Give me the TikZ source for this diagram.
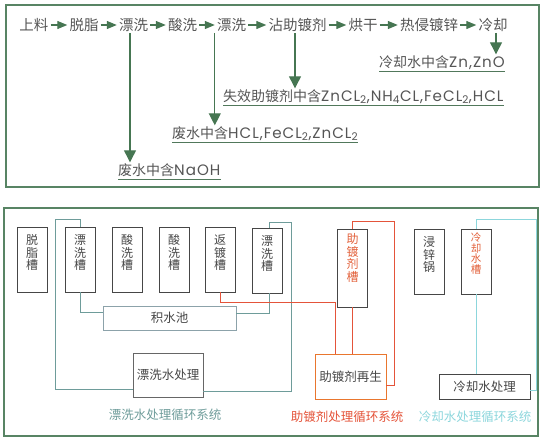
\documentclass[tikz,border=0pt]{standalone}
\usepackage{fontspec}
\setmainfont{Noto Sans CJK SC}
\newfontfamily\lat[Scale=1.08,LetterSpace=6.5]{Poppins}
\usetikzlibrary{arrows.meta}
\definecolor{frame}{RGB}{88,132,100}
\definecolor{arrg}{RGB}{70,118,82}
\definecolor{txt}{RGB}{85,85,85}
\definecolor{tealc}{RGB}{110,156,154}
\definecolor{redc}{RGB}{228,84,58}
\definecolor{cyanc}{RGB}{140,214,220}
\definecolor{poolc}{RGB}{140,162,170}
\definecolor{tankc}{RGB}{70,70,70}
\definecolor{orc}{RGB}{226,96,58}
\tikzset{
  outer/.style={draw=frame, line width=1.8pt},
  flow/.style={text=txt, font=\fontsize{14.5}{16}\selectfont, inner xsep=2pt, inner ysep=1pt},
  harr/.style={draw=arrg, line width=1.2pt, -{Triangle[length=10pt,width=8pt]}},
  varr/.style={draw=arrg, line width=1.2pt, -{Triangle[length=12pt,width=12pt]}},
  lab/.style={text=txt, font=\fontsize{14}{16}\selectfont, anchor=west, inner xsep=0pt, inner ysep=1.5pt, text height=11pt, text depth=3pt},
  uline/.style={draw=arrg!80!gray, line width=0.9pt},
  tank/.style={draw=tankc, line width=0.9pt, inner sep=0pt, minimum width=30pt},
  tanktxt/.style={text=tankc, font=\fontsize{12}{12.5}\selectfont, align=center, inner sep=0pt, anchor=north},
  boxn/.style={line width=0.9pt, inner sep=0pt, text=tankc, font=\fontsize{12.5}{14}\selectfont},
  tealline/.style={draw=tealc, line width=1pt},
  redline/.style={draw=redc, line width=1pt},
  cyanline/.style={draw=cyanc, line width=1pt},
  syslab/.style={font=\fontsize{12.5}{14}\selectfont, inner sep=0pt},
}
\begin{document}
\begin{tikzpicture}[x=1pt,y=-1pt]
\useasboundingbox (0,0) rectangle (548,445);
% panels
\draw[outer] (6,5) rectangle (539,187);
\draw[outer] (4,208) rectangle (538,436);

% ---------- top flow ----------
\node[flow] (n1) at (34,25) {上料};
\node[flow] (n2) at (84,25) {脱脂};
\node[flow] (n3) at (133.5,25) {漂洗};
\node[flow] (n4) at (182.5,25) {酸洗};
\node[flow] (n5) at (231.5,25) {漂洗};
\node[flow] (n6) at (297.5,25) {沾助镀剂};
\node[flow] (n7) at (363,25) {烘干};
\node[flow] (n8) at (429,25) {热侵镀锌};
\node[flow] (n9) at (493,25) {冷却};
\foreach \a/\b in {n1/n2,n2/n3,n3/n4,n4/n5,n5/n6,n6/n7,n7/n8,n8/n9}
  \draw[harr] (\a) -- (\b);

% labels
\node[lab] (l1) at (379,63) {冷却水中含{\lat Zn,ZnO}};
\node[lab] (l2) at (223,97) {失效助镀剂中含{\lat ZnCL\textsubscript{2},NH\textsubscript{4}CL,FeCL\textsubscript{2},HCL}};
\node[lab] (l3) at (172,134) {废水中含{\lat HCL,FeCL\textsubscript{2},ZnCL\textsubscript{2}}};
\node[lab] (l4) at (118,171) {废水中含{\lat NaOH}};
\foreach \l in {l1,l2,l3,l4}
  \draw[uline] (\l.south west) -- (\l.south east);

\draw[varr] ([xshift=3pt]n9.south) -- ([xshift=3pt]n9.south |- l1.north);
\draw[varr] ([xshift=-2.5pt]n6.south) -- ([xshift=-2.5pt]n6.south |- l2.north);
\draw[varr] (n5.south west) -- (n5.south west |- l3.north);
\draw[varr] ([xshift=-3.5pt]n3.south) -- ([xshift=-3.5pt]n3.south |- l4.north);

% ---------- bottom tanks ----------
\node[tank, minimum height=65pt] (t1) at (32,259.5) {};
\node[tank, minimum height=65pt] (t2) at (80,259.5) {};
\node[tank, minimum height=65pt] (t3) at (127,259.5) {};
\node[tank, minimum height=65pt] (t4) at (174,259.5) {};
\node[tank, minimum height=65pt] (t5) at (220,259.5) {};
\node[tank, minimum height=65pt] (t6) at (267,260.5) {};
\node[tank, minimum height=78pt] (t7) at (352.5,268) {};
\node[tank, minimum height=65pt] (t8) at (429,261.5) {};
\node[tank, minimum height=65pt] (t9) at (476,261.5) {};

\node[tanktxt] (t1l) at ([yshift=-8pt]t1.north) {脱\\脂\\槽};
\node[tanktxt] (t2l) at ([yshift=-8pt]t2.north) {漂\\洗\\槽};
\node[tanktxt] (t3l) at ([yshift=-8pt]t3.north) {酸\\洗\\槽};
\node[tanktxt] (t4l) at ([yshift=-8pt]t4.north) {酸\\洗\\槽};
\node[tanktxt] (t5l) at ([yshift=-8pt]t5.north) {返\\镀\\槽};
\node[tanktxt] (t6l) at ([yshift=-8pt]t6.north) {漂\\洗\\槽};
\node[tanktxt, text=orc] (t7l) at ([yshift=-5pt]t7.north) {助\\镀\\剂\\槽};
\node[tanktxt] (t8l) at ([yshift=-8pt]t8.north) {浸\\锌\\锅};
\node[tanktxt, text=orc, font=\fontsize{10.5}{10.5}\selectfont] (t9l) at ([yshift=-4pt]t9.north) {冷\\却\\水\\槽};

% boxes
\node[boxn, draw=poolc, minimum width=133pt, minimum height=24pt] (pool) at (169.5,318) {积水池};
\node[boxn, draw=gray!80!black, minimum width=70pt, minimum height=44pt] (rinse) at (168,375) {漂洗水处理};
\node[boxn, draw=redc!80!yellow, minimum width=71pt, minimum height=45pt] (regen) at (350.5,376.5) {助镀剂再生};
\node[boxn, draw=tankc, minimum width=91pt, minimum height=25pt] (coolt) at (484.5,386.5) {冷却水处理};

% teal (rinse water) loop
\coordinate (c1) at (55,389);
\coordinate (c2) at (291,391);
\draw[tealline] (t2.north) -- (80,219) -- (55,219) -- (c1) -- (rinse.west |- c1);
\draw[tealline] (t2.south) |- ([yshift=6pt]pool.west);
\draw[tealline] ([yshift=5pt]pool.east) -| ([xshift=2pt]t6.south);
\draw[tealline] ([xshift=2pt]t6.north) -- (269,222) -- (291,222) -- (c2) -- (rinse.east |- c2);

% red (flux) loop
\coordinate (r1) at (335,302);
\coordinate (r2) at (394,385);
\draw[redline] (t5.south) |- (r1) -- (r1 |- regen.north);
\draw[redline] (t7.south) -- (t7.south |- regen.north);
\draw[redline] (t7.north) -- (352.5,221) -- (394,221) -- (r2) -- (regen.east |- r2);

% cyan (cooling) loop
\coordinate (k1) at (536,390);
\draw[cyanline] (t9.north) -- (476,219) -- (536,219) -- (k1) -- (coolt.east |- k1);
\draw[cyanline] (t9.south) -- (t9.south |- coolt.north);

% system labels
\node[syslab, text=tealc] (s1) at (165,415) {漂洗水处理循环系统};
\node[syslab, text=redc] (s2) at (347,417) {助镀剂处理循环系统};
\node[syslab, text=cyanc] (s3) at (475,417) {冷却水处理循环系统};
\end{tikzpicture}
\end{document}
